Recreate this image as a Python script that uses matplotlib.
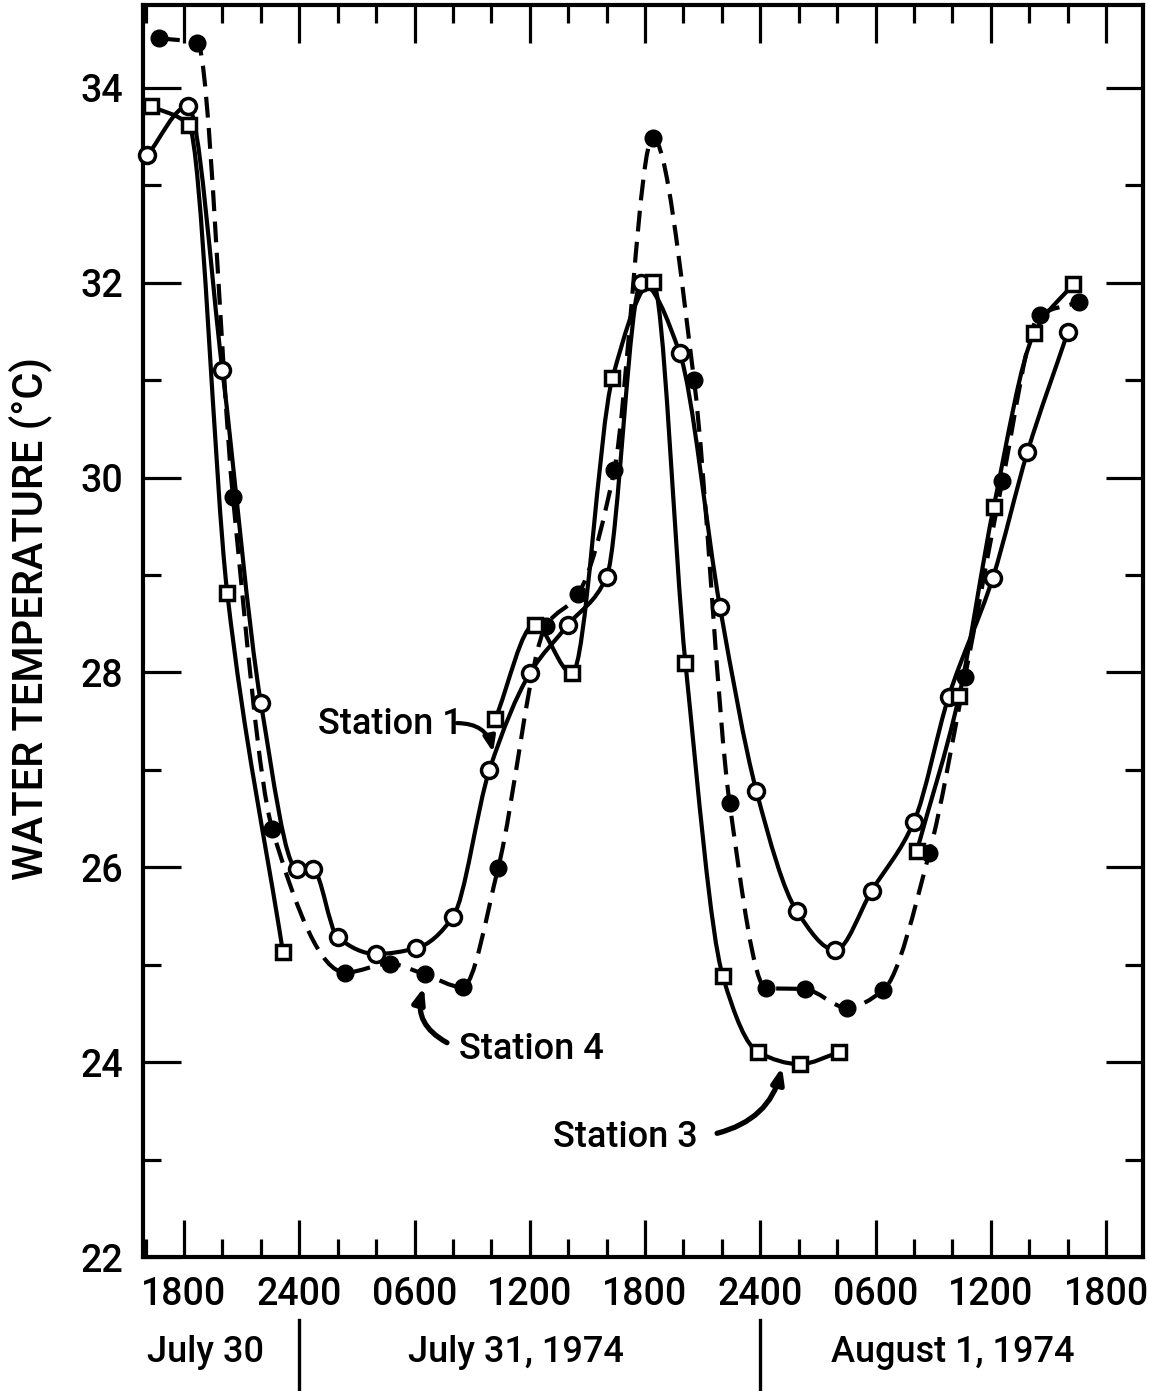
import matplotlib
matplotlib.use("Agg")
import matplotlib.pyplot as plt
import numpy as np
from matplotlib.path import Path
from matplotlib.patches import PathPatch
from matplotlib.transforms import blended_transform_factory

plt.rcParams['font.family'] = ['Roboto', 'DejaVu Sans']
plt.rcParams['font.weight'] = 'medium'

# hours counted from 0000 July 30, 1974
st1_hours = [16.1, 18.2, 20.0, 22.0, 23.9, 24.7, 26.0, 28.0, 30.1, 32.0, 33.9, 36.0, 38.0,
             40.0, 41.8, 43.8, 45.9, 47.8, 49.9, 51.9, 53.8, 56.0, 57.8, 60.1, 61.9, 64.0]
st1_temp = [33.31, 33.81, 31.10, 27.69, 25.98, 25.98, 25.28, 25.11, 25.17, 25.49, 27.00, 27.99, 28.49,
            28.98, 32.00, 31.28, 28.67, 26.78, 25.55, 25.15, 25.76, 26.47, 27.75, 28.97, 30.26, 31.49]

st4_hours = [16.7, 18.7, 20.55, 22.6, 26.4, 28.7, 30.55, 32.5, 34.35, 36.85, 38.5, 40.4,
             42.4, 44.55, 46.4, 48.3, 50.3, 52.5, 54.4, 56.8, 58.65, 60.6, 62.55, 64.6]
st4_temp = [34.51, 34.46, 29.80, 26.39, 24.92, 25.01, 24.90, 24.77, 25.99, 28.48, 28.80, 30.08,
            33.49, 31.00, 26.66, 24.76, 24.75, 24.56, 24.74, 26.15, 27.95, 29.96, 31.67, 31.80]

# station 3 has gaps in the record
st3_segments = [
    ([16.3, 18.25, 20.25, 23.15], [33.81, 33.62, 28.82, 25.13]),
    ([34.2, 36.25, 38.2, 40.3, 42.4, 44.1, 46.05, 47.9, 50.05, 52.1],
     [27.52, 28.49, 27.99, 31.02, 32.01, 28.10, 24.88, 24.10, 23.98, 24.10]),
    ([56.15, 58.35, 60.15, 62.25, 64.3], [26.17, 27.76, 29.70, 31.48, 31.99]),
]

tick_hours = [18, 24, 30, 36, 42, 48, 54, 60, 66]
tick_labels = ['1800', '2400', '0600', '1200', '1800', '2400', '0600', '1200', '1800']
day_labels = ['July 30', 'July 31, 1974', 'August 1, 1974']
day_centers = [19.1, 35.3, 58.0]
day_breaks = [24, 48]


def smooth_path(x, y):
    """monotone cubic (pchip) through the points, as a bezier path"""
    x = np.asarray(x, float)
    y = np.asarray(y, float)
    h = np.diff(x)
    d = np.diff(y) / h
    m = np.zeros_like(y)
    for k in range(1, len(x) - 1):
        if d[k - 1] * d[k] > 0:
            w1 = 2 * h[k] + h[k - 1]
            w2 = h[k] + 2 * h[k - 1]
            m[k] = (w1 + w2) / (w1 / d[k - 1] + w2 / d[k])
    m[0] = d[0]
    m[-1] = d[-1]
    verts = [(x[0], y[0])]
    codes = [Path.MOVETO]
    for i in range(len(x) - 1):
        dx = h[i]
        verts += [(x[i] + dx / 3, y[i] + m[i] * dx / 3),
                  (x[i + 1] - dx / 3, y[i + 1] - m[i + 1] * dx / 3),
                  (x[i + 1], y[i + 1])]
        codes += [Path.CURVE4] * 3
    return Path(verts, codes)


fig = plt.figure(figsize=(11.49, 13.91), dpi=100)
ax = fig.add_axes([0.1245, 0.0963, 0.8703, 0.9001])

lw = 3.0
fs = 26

# a. station 1: open circles, solid
ax.add_patch(PathPatch(smooth_path(st1_hours, st1_temp), fill=False, ec='black', lw=lw, zorder=2))
ax.plot(st1_hours, st1_temp, ls='none', marker='o', ms=11.5, mfc='white', mec='black',
        mew=2.5, zorder=4, clip_on=False)

# b. station 4: filled circles, dashed
ax.add_patch(PathPatch(smooth_path(st4_hours, st4_temp), fill=False, ec='black', lw=lw,
                       ls=(0, (5, 2.5)), zorder=2))
ax.plot(st4_hours, st4_temp, ls='none', marker='o', ms=12, mfc='black', mec='black',
        zorder=4, clip_on=False)

# c. station 3: open squares, solid
for hrs, tmp in st3_segments:
    ax.add_patch(PathPatch(smooth_path(hrs, tmp), fill=False, ec='black', lw=lw, zorder=2))
    ax.plot(hrs, tmp, ls='none', marker='s', ms=10.5, mfc='white', mec='black',
            mew=2.5, zorder=4, clip_on=False)

# d. axes, ticks
ax.set_xlim(15.87, 67.92)
ax.set_ylim(22, 34.85)
ax.set_xticks(tick_hours)
ax.set_xticklabels(tick_labels)
ax.set_xticks(np.arange(16, 68, 2), minor=True)
ax.set_yticks(np.arange(22, 35, 2))
ax.set_yticks(np.arange(22, 35, 1), minor=True)
ax.tick_params(which='both', direction='in', top=True, right=True, width=2.3, labelsize=27)
ax.tick_params(which='major', length=27, pad=14)
ax.tick_params(which='minor', length=13)
for sp in ax.spines.values():
    sp.set_linewidth(3.0)

ax.text(-0.113, 0.51, 'WATER TEMPERATURE (°C)', transform=ax.transAxes, rotation=90,
        ha='center', va='center', fontsize=30)

# e. date labels under the axis
trans = blended_transform_factory(ax.transData, ax.transAxes)
for lab, c in zip(day_labels, day_centers):
    ax.text(c, -0.076, lab, transform=trans, ha='center', va='center', fontsize=fs)
for b in day_breaks:
    ax.plot([b, b], [-0.05, -0.11], transform=trans, color='black', lw=2.4, clip_on=False)

# f. station labels with arrows
arrow = '-|>,head_length=0.9,head_width=0.35'
ax.text(25.0, 27.47, 'Station 1', ha='left', va='center', fontsize=fs)
ax.annotate('', xy=(34.09, 27.18), xytext=(32.21, 27.48),
            arrowprops=dict(arrowstyle=arrow, lw=3, color='black',
                            connectionstyle='arc3,rad=-0.4', shrinkA=0, shrinkB=0))
ax.text(32.3, 24.13, 'Station 4', ha='left', va='center', fontsize=fs)
ax.annotate('', xy=(30.49, 24.77), xytext=(31.69, 24.20),
            arrowprops=dict(arrowstyle=arrow, lw=3.8, color='black',
                            connectionstyle='arc3,rad=-0.4', shrinkA=0, shrinkB=0))
ax.text(37.2, 23.23, 'Station 3', ha='left', va='center', fontsize=fs)
ax.annotate('', xy=(49.13, 23.95), xytext=(45.75, 23.27),
            arrowprops=dict(arrowstyle=arrow, lw=3.8, color='black',
                            connectionstyle='arc3,rad=0.3', shrinkA=0, shrinkB=0))

fig.savefig('out.png', dpi=100)
